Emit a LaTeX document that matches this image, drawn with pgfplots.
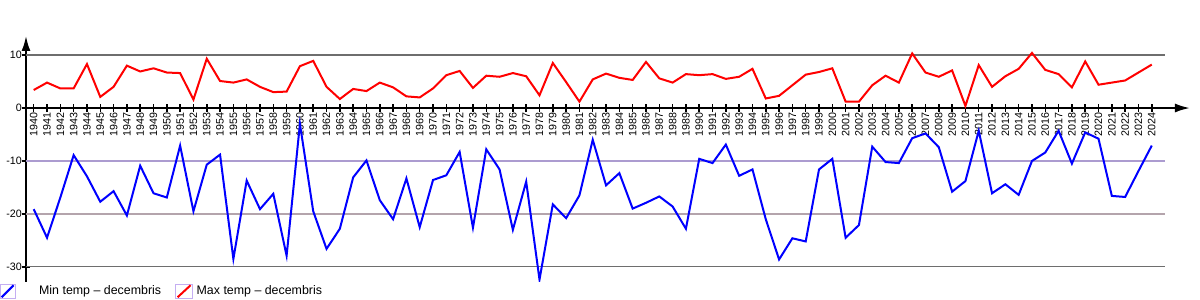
\documentclass[border=0pt]{standalone}
\usepackage{fontspec}
\setmainfont{Liberation Sans}
\usepackage{pgfplots}
\usepackage{pgfplotstable}
\pgfplotsset{compat=1.18}
\usetikzlibrary{arrows.meta}
\definecolor{gridgray}{HTML}{6E6E6E}
\definecolor{gridlav}{HTML}{AC9CD0}
\definecolor{gridmauve}{HTML}{B4A4AC}
\definecolor{swatch}{HTML}{C4AEF2}
\pgfplotstableread{
year t
1940 -19.1
1941 -24.5
1942 -16.9
1943 -8.9
1944 -12.9
1945 -17.7
1946 -15.7
1947 -20.3
1948 -10.9
1949 -16.1
1950 -16.9
1951 -7.1
1952 -19.5
1953 -10.7
1954 -8.8
1955 -28.5
1956 -13.7
1957 -19.1
1958 -16.2
1959 -27.9
1960 -3.0
1961 -19.5
1962 -26.6
1963 -22.8
1964 -13.1
1965 -9.9
1966 -17.4
1967 -21.0
1968 -13.3
1969 -22.5
1970 -13.6
1971 -12.7
1972 -8.3
1973 -22.6
1974 -7.8
1975 -11.6
1976 -23.0
1977 -13.9
1978 -32.4
1979 -18.2
1980 -20.8
1981 -16.5
1982 -6.0
1983 -14.6
1984 -12.3
1985 -19.0
1986 -17.9
1987 -16.7
1988 -18.6
1989 -22.8
1990 -9.6
1991 -10.4
1992 -6.9
1993 -12.8
1994 -11.6
1995 -21.0
1996 -28.6
1997 -24.6
1998 -25.2
1999 -11.6
2000 -9.6
2001 -24.5
2002 -22.1
2003 -7.3
2004 -10.2
2005 -10.4
2006 -5.7
2007 -4.8
2008 -7.4
2009 -15.8
2010 -13.8
2011 -4.3
2012 -16.1
2013 -14.4
2014 -16.4
2015 -10.0
2016 -8.4
2017 -4.3
2018 -10.5
2019 -4.6
2020 -5.8
2021 -16.6
2022 -16.8
2023 -11.9
2024 -7.1
}\mintable
\pgfplotstableread{
year t
1940 3.4
1941 4.8
1942 3.7
1943 3.7
1944 8.3
1945 2.1
1946 4.0
1947 8.0
1948 6.9
1949 7.5
1950 6.7
1951 6.6
1952 1.6
1953 9.3
1954 5.1
1955 4.8
1956 5.4
1957 4.0
1958 3.0
1959 3.1
1960 7.9
1961 8.9
1962 4.0
1963 1.7
1964 3.6
1965 3.2
1966 4.8
1967 3.9
1968 2.2
1969 2.0
1970 3.7
1971 6.2
1972 7.0
1973 3.8
1974 6.1
1975 5.9
1976 6.6
1977 6.0
1978 2.4
1979 8.5
1980 4.9
1981 1.2
1982 5.4
1983 6.5
1984 5.7
1985 5.3
1986 8.7
1987 5.6
1988 4.8
1989 6.4
1990 6.2
1991 6.4
1992 5.5
1993 5.9
1994 7.4
1995 1.8
1996 2.3
1997 4.3
1998 6.3
1999 6.8
2000 7.5
2001 1.2
2002 1.2
2003 4.3
2004 6.1
2005 4.8
2006 10.3
2007 6.7
2008 5.9
2009 7.1
2010 0.4
2011 8.1
2012 4.0
2013 6.0
2014 7.4
2015 10.4
2016 7.2
2017 6.4
2018 3.9
2019 8.8
2020 4.4
2021 4.8
2022 5.2
2023 6.7
2024 8.2
}\maxtable
\begin{document}
\begin{tikzpicture}
\useasboundingbox (-26pt,-18.3pt) rectangle (1174pt,281.7pt);
\begin{axis}[
  at={(0pt,0pt)}, anchor=south west,
  scale only axis, width=1164pt, height=245.7pt,
  xmin=1939.42, xmax=2026.87, ymin=-32.8, ymax=13.6,
  axis x line=middle, axis y line=left,
  axis line style={line width=2pt, black},
  x axis line style={-{Latex[length=15pt,width=9pt]}},
  y axis line style={-{Latex[length=15pt,width=9pt]}},
  xtick={1940,1941,...,2024},
  ytick={-30,-20,-10,0,10},
  yticklabels={-30,-20,-10,0,10},
  hide obscured x ticks=false, hide obscured y ticks=false,
  tick align=center, major tick length=8pt,
  xtick style={line width=1.5pt, black},
  ytick style={line width=2pt, black},
  /pgf/number format/1000 sep={},
  /pgf/number format/assume math mode=true,
  xticklabel style={rotate=90, anchor=east, font=\fontsize{10.7}{12}\selectfont, inner sep=0pt},
  yticklabel style={font=\fontsize{10.7}{12}\selectfont, inner sep=0pt},
  legend columns=2,
  legend style={at={(-0.0228,-0.0073)}, anchor=north west, draw=none, fill=none,
    inner sep=0pt, font=\fontsize{12.4}{14}\selectfont, nodes={inner sep=0pt},
    /tikz/every even column/.style={column sep=14pt}},
]
\addplot[gridgray, line width=1.2pt, forget plot] coordinates {(1939.42,10) (2025,10)};
\addplot[gridlav, line width=1.2pt, forget plot] coordinates {(1939.42,-10) (2025,-10)};
\addplot[gridmauve, line width=1.2pt, forget plot] coordinates {(1939.42,-20) (2025,-20)};
\addplot[gridgray, line width=1.2pt, forget plot] coordinates {(1939.42,-30) (2025,-30)};
\addplot[blue, line width=2pt, legend image code/.code={
    \draw[swatch, line width=1pt] (0pt,-7pt) rectangle (15pt,7pt);
    \draw[blue, line width=2pt] (1.5pt,-6pt) -- (13.5pt,6pt);
    \path (38pt,0pt);}] table[x=year, y=t] {\mintable};
\addlegendentry{Min temp – decembris}
\addplot[red, line width=2pt, legend image code/.code={
    \draw[swatch, line width=1pt] (0pt,-7pt) rectangle (17pt,7pt);
    \draw[red, line width=2pt] (2pt,-6pt) -- (15pt,6pt);
    \path (20pt,0pt);}] table[x=year, y=t] {\maxtable};
\addlegendentry{Max temp – decembris}
\end{axis}
\end{tikzpicture}
\end{document}
